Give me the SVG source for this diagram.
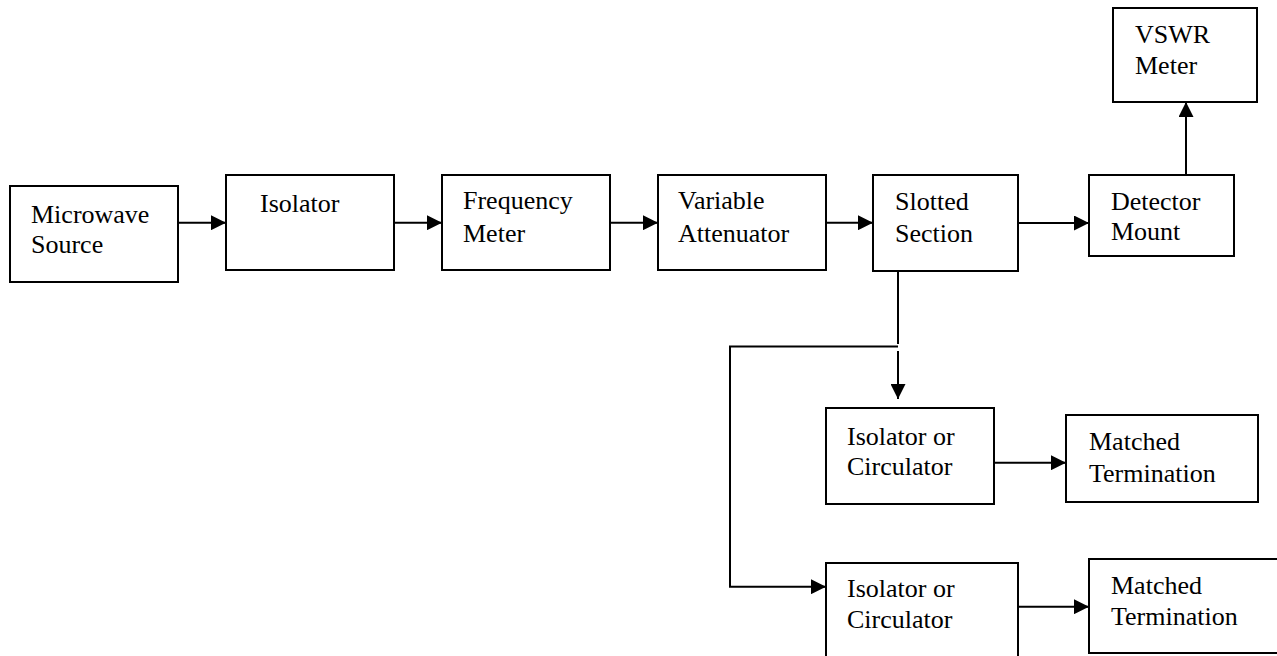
<svg xmlns="http://www.w3.org/2000/svg" width="1277" height="656" viewBox="0 0 1277 656">
<defs>
<style>
.box{fill:#fff;stroke:#000;stroke-width:2}
.lbl{font-family:"Liberation Serif","Times New Roman",serif;font-size:26px;fill:#000}
.con{fill:none;stroke:#000;stroke-width:2}
</style>
<marker id="arr" markerUnits="userSpaceOnUse" markerWidth="15" markerHeight="15" refX="15" refY="7.5" orient="auto">
<path d="M0,0 L15,7.5 L0,15 z" fill="#000"/>
</marker>
</defs>
<rect width="1277" height="656" fill="#fff"/>
<g id="connectors">
<path class="con" d="M178,222.7 H226" marker-end="url(#arr)"/>
<path class="con" d="M394,222.7 H442" marker-end="url(#arr)"/>
<path class="con" d="M610,222.7 H658" marker-end="url(#arr)"/>
<path class="con" d="M826,222.7 H873" marker-end="url(#arr)"/>
<path class="con" d="M1018,223 H1089" marker-end="url(#arr)"/>
<path class="con" d="M1186,175 V102" marker-end="url(#arr)"/>
<path class="con" d="M898,271 V344"/>
<path class="con" d="M898,351 V399" marker-end="url(#arr)"/>
<path class="con" d="M898,346.5 H730 V586.7 H826" marker-end="url(#arr)"/>
<path class="con" d="M994,462.7 H1066" marker-end="url(#arr)"/>
<path class="con" d="M1018,606.7 H1089" marker-end="url(#arr)"/>
</g>
<g id="microwave-source">
<rect class="box" x="10" y="186" width="168" height="96"/>
<text class="lbl" x="31" y="222.7">Microwave</text>
<text class="lbl" x="31" y="252.7">Source</text>
</g>
<g id="isolator">
<rect class="box" x="226" y="175" width="168" height="95"/>
<text class="lbl" x="260" y="211.7">Isolator</text>
</g>
<g id="frequency-meter">
<rect class="box" x="442" y="175" width="168" height="95"/>
<text class="lbl" x="463" y="209.3">Frequency</text>
<text class="lbl" x="463" y="241.7">Meter</text>
</g>
<g id="variable-attenuator">
<rect class="box" x="658" y="175" width="168" height="95"/>
<text class="lbl" x="678" y="209.3">Variable</text>
<text class="lbl" x="678" y="241.7">Attenuator</text>
</g>
<g id="slotted-section">
<rect class="box" x="873" y="175" width="145" height="96"/>
<text class="lbl" x="895" y="210">Slotted</text>
<text class="lbl" x="895" y="241.7">Section</text>
</g>
<g id="detector-mount">
<rect class="box" x="1089" y="175" width="145" height="81"/>
<text class="lbl" x="1111" y="210">Detector</text>
<text class="lbl" x="1111" y="240">Mount</text>
</g>
<g id="vswr-meter">
<rect class="box" x="1113" y="8" width="144" height="94"/>
<text class="lbl" x="1135" y="42.7">VSWR</text>
<text class="lbl" x="1135" y="74">Meter</text>
</g>
<g id="isolator-circulator-1">
<rect class="box" x="826" y="408" width="168" height="96"/>
<text class="lbl" x="847" y="445">Isolator or</text>
<text class="lbl" x="847" y="475">Circulator</text>
</g>
<g id="matched-termination-1">
<rect class="box" x="1066" y="415" width="192" height="87"/>
<text class="lbl" x="1089" y="450">Matched</text>
<text class="lbl" x="1089" y="481.7">Termination</text>
</g>
<g id="isolator-circulator-2">
<rect class="box" x="826" y="563" width="192" height="110"/>
<text class="lbl" x="847" y="596.7">Isolator or</text>
<text class="lbl" x="847" y="628">Circulator</text>
</g>
<g id="matched-termination-2">
<rect class="box" x="1089" y="559" width="200" height="94"/>
<text class="lbl" x="1111" y="594">Matched</text>
<text class="lbl" x="1111" y="625">Termination</text>
</g>
</svg>
